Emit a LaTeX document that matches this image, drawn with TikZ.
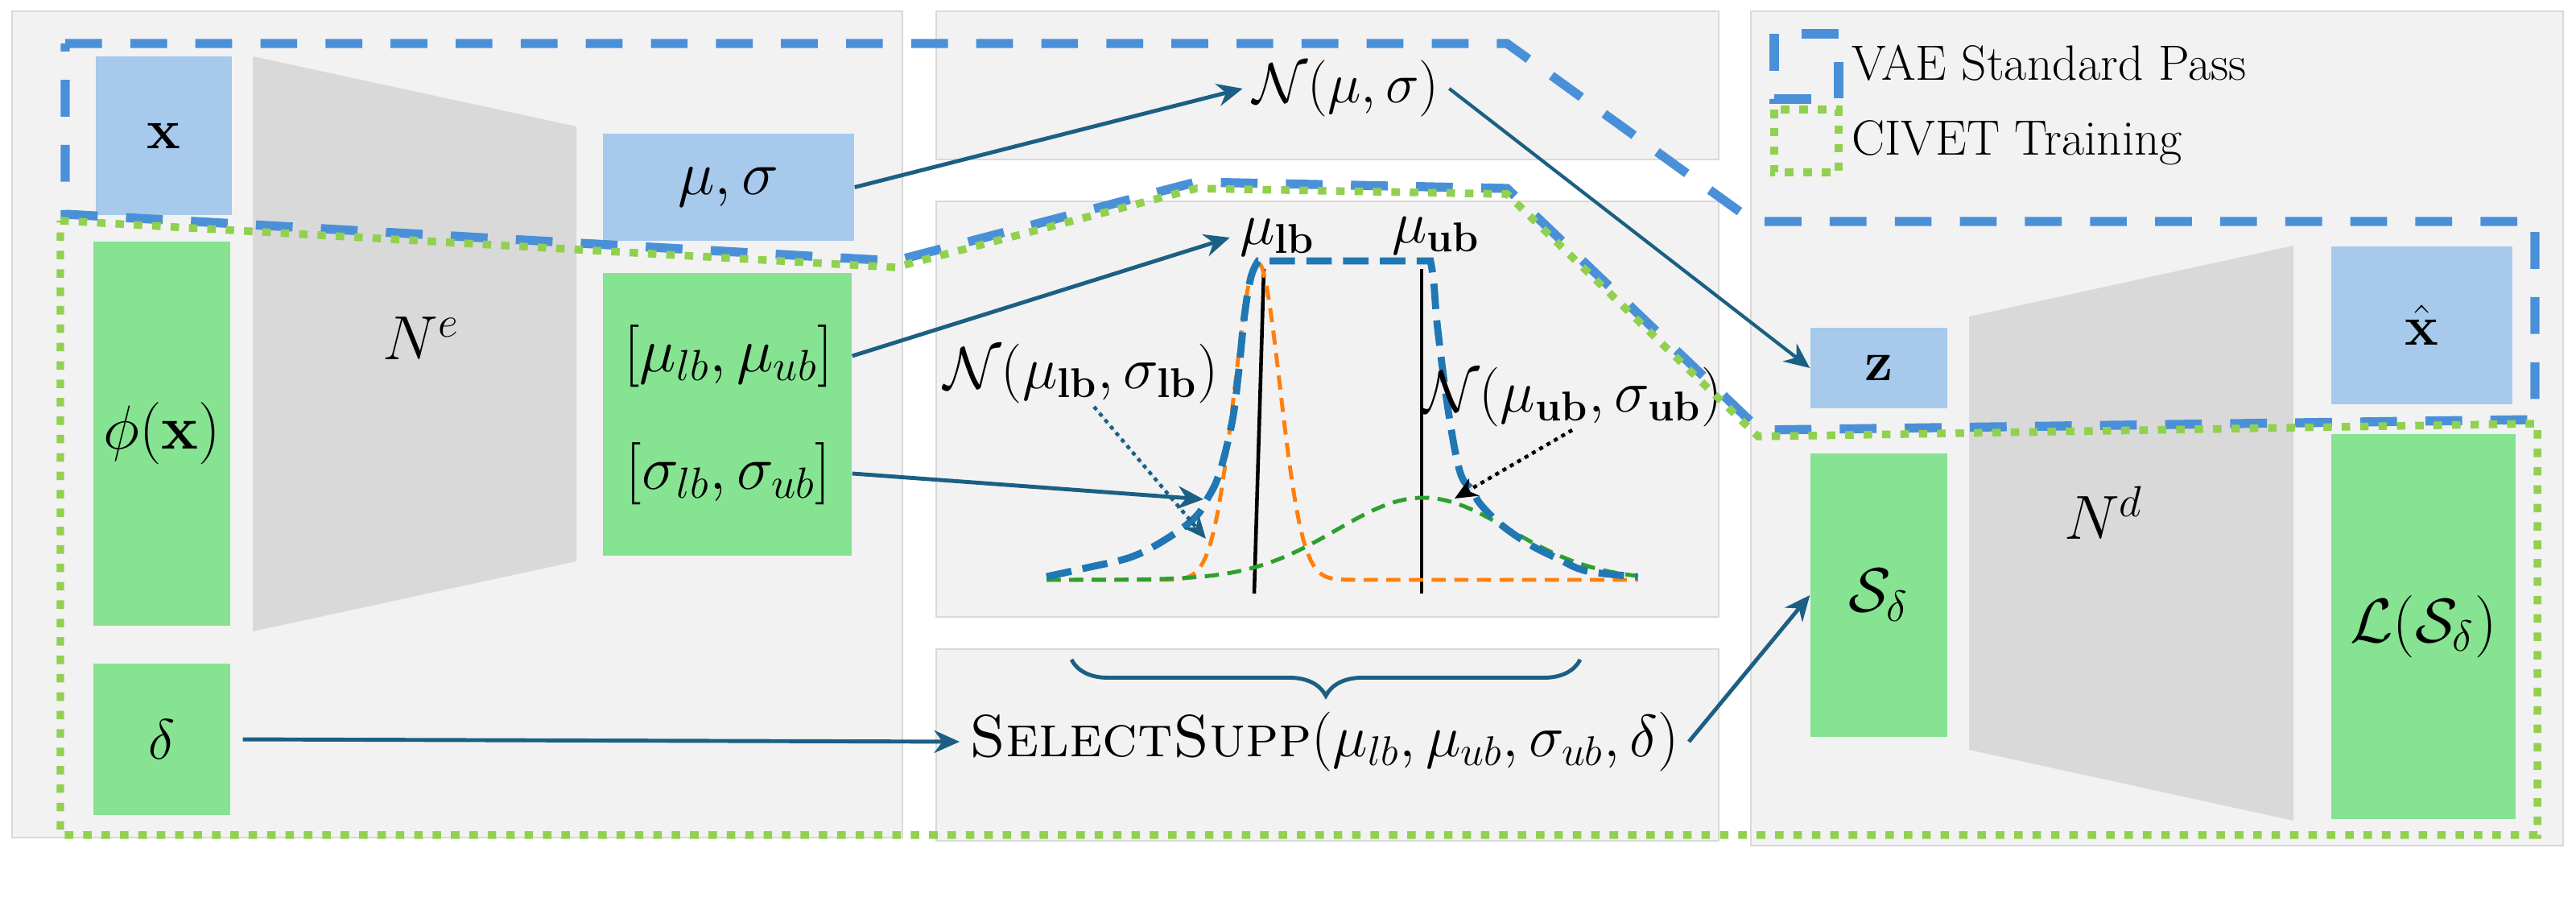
\RequirePackage{fix-cm}
\documentclass[tikz,border=0pt]{standalone}
\usepackage{amsmath}
\usepackage{amsfonts}
\usetikzlibrary{calc}
\usetikzlibrary{arrows.meta}
\usetikzlibrary{decorations.pathreplacing}

\definecolor{panelgray}{RGB}{242,242,242}
\definecolor{netgray}{RGB}{217,217,217}
\definecolor{vaeblue}{RGB}{166,201,236}
\definecolor{civgreen}{RGB}{134,227,145}
\definecolor{passblue}{RGB}{74,144,217}
\definecolor{trainlime}{RGB}{146,208,80}
\definecolor{flowteal}{RGB}{27,96,131}
\definecolor{mplblue}{RGB}{31,119,180}
\definecolor{mplorange}{RGB}{255,127,14}
\definecolor{mplgreen}{RGB}{44,160,44}

\begin{document}
\begin{tikzpicture}[
    panel/.style={fill=panelgray, draw=black!15, line width=0.5pt},
    vaebox/.style={fill=vaeblue, inner sep=0pt},
    civbox/.style={fill=civgreen, inner sep=0pt},
    big/.style={font=\fontsize{20}{24}\selectfont},
    bigger/.style={font=\fontsize{22}{26}\selectfont},
    plotlbl/.style={font=\fontsize{21}{25}\selectfont},
    legend/.style={font=\fontsize{17.5}{21}\selectfont, inner sep=0pt, anchor=base west},
    flow/.style={draw=flowteal, line width=1.4pt, -{Stealth[length=9pt,width=8pt]}},
    pointer/.style={line width=1.3pt, dash pattern=on 1.4pt off 1.6pt, -{Stealth[length=8pt,width=7pt]}},
    vaepass/.style={draw=passblue, line width=3.2pt, dash pattern=on 13pt off 10pt},
    civtrain/.style={draw=trainlime, line width=2.7pt, dash pattern=on 3pt off 3.5pt},
    thin dash/.style={line width=1.4pt, dash pattern=on 5pt off 3pt},
]
\useasboundingbox (0,0) rectangle (32,11.2);
\fill[white] (0,0) rectangle (32,11.2);

% Panels
\draw[panel] (0.15,0.80) rectangle (11.21,11.06);
\draw[panel] (11.63,9.22) rectangle (21.35,11.06);
\draw[panel] (11.63,3.54) rectangle (21.35,8.70);
\draw[panel] (11.63,0.76) rectangle (21.35,3.14);
\draw[panel] (21.75,0.70) rectangle (31.84,11.06);

% Encoder and decoder
\fill[netgray] (3.14,10.50) -- (7.16,9.63) -- (7.16,4.23) -- (3.14,3.36) -- cycle;
\fill[netgray] (24.46,7.27) -- (28.49,8.15) -- (28.49,1.01) -- (24.46,1.89) -- cycle;
\node[bigger] (enc) at (5.23,7.00) {$N^e$};
\node[bigger] (dec) at (26.13,4.83) {$N^d$};

% Input side
\node[vaebox, big, minimum width=1.69cm, minimum height=1.97cm] (x) at (2.035,9.515) {$\mathbf{x}$};
\node[civbox, bigger, minimum width=1.70cm, minimum height=4.77cm] (phi) at (2.01,5.815) {$\phi(\mathbf{x})$};
\node[civbox, big, minimum width=1.70cm, minimum height=1.88cm] (delta) at (2.01,2.02) {$\delta$};

% Encoder outputs
\node[vaebox, bigger, minimum width=3.12cm, minimum height=1.33cm] (musig) at (9.05,8.875) {$\mu,\sigma$};
\node[civbox, minimum width=3.09cm, minimum height=3.51cm] (bnd) at (9.035,6.055) {};
\node[bigger] (mub) at (9.05,6.78) {$[\mu_{lb},\mu_{ub}]$};
\node[bigger] (sigb) at (9.05,5.32) {$[\sigma_{lb},\sigma_{ub}]$};

% Sampling
\node[big] (nms) at (16.72,10.10) {$\mathcal{N}(\mu,\sigma)$};

% Plot of the bounds
\draw[line width=1.3pt] (15.70,7.86) -- (15.58,3.83);
\draw[line width=1.3pt] (17.66,7.86) -- (17.66,3.83);
\draw[thin dash, mplorange] plot[domain=13:20.35, samples=160] (\x, {4+3.96*exp(-((\x-15.62)^2)/(2*0.28^2))});
\draw[thin dash, mplgreen] plot[domain=13:20.35, samples=100] (\x, {4+1.02*exp(-((\x-17.68)^2)/(2*1.08^2))});
\draw[line width=2.5pt, mplblue, dash pattern=on 9pt off 4pt]
  plot[smooth, tension=0.6] coordinates {(13.00,4.04) (13.50,4.15) (14.07,4.29) (14.54,4.54) (14.86,4.79) (15.00,5.01) (15.11,5.22) (15.21,5.54) (15.32,6.04) (15.39,6.61) (15.46,7.29) (15.54,7.76) (15.63,7.96)}
  -- (17.77,7.96)
  -- plot[smooth, tension=0.6] coordinates {(17.77,7.96) (17.81,7.70) (17.86,7.11) (18.00,6.04) (18.14,5.33) (18.29,5.11) (18.39,4.94) (18.64,4.69) (19.00,4.44) (19.36,4.26) (19.71,4.11) (20.34,4.04)};
\node[plotlbl] (mulb) at (15.87,8.25) {$\mu_{\mathbf{lb}}$};
\node[plotlbl] (muub) at (17.84,8.27) {$\mu_{\mathbf{ub}}$};
\node[plotlbl, inner sep=1pt] (nlb) at (13.43,6.56) {$\mathcal{N}(\mu_{\mathbf{lb}},\sigma_{\mathbf{lb}})$};
\node[plotlbl, inner sep=1pt] (nub) at (19.53,6.27) {$\mathcal{N}(\mu_{\mathbf{ub}},\sigma_{\mathbf{ub}})$};
\coordinate (lbtail) at (14.95,5.00);
\coordinate (lbtip) at (14.98,4.51);
\coordinate (ubtip) at (18.07,5.01);

% Support selection
\node[plotlbl] (sel) at (16.45,1.99) {\textsc{SelectSupp}$(\mu_{lb},\mu_{ub},\sigma_{ub},\delta)$};
\draw[flowteal, line width=1.4pt, decorate, decoration={brace, mirror, amplitude=0.45cm}] (13.31,3.01) -- (19.63,3.01);

% Decoder side
\node[vaebox, big, minimum width=1.70cm, minimum height=1.00cm] (z) at (23.34,6.63) {$\mathbf{z}$};
\node[civbox, bigger, minimum width=1.70cm, minimum height=3.52cm] (sd) at (23.34,3.81) {$\mathcal{S}_\delta$};
\node[vaebox, big, minimum width=2.25cm, minimum height=1.96cm] (xhat) at (30.085,7.16) {$\hat{\mathbf{x}}$};
\node[civbox, bigger, minimum width=2.29cm, minimum height=4.78cm] (lsd) at (30.105,3.42) {$\mathcal{L}(\mathcal{S}_\delta)$};

% Regions
\draw[vaepass] (0.81,10.66) -- (18.72,10.66) -- (21.78,8.45) -- (31.49,8.45) -- (31.49,5.99)
  -- (21.86,5.86) -- (18.72,8.86) -- (14.86,8.94) -- (11.12,7.96) -- (0.81,8.54) -- cycle;
\draw[civtrain] (0.75,8.46) -- (11.12,7.88) -- (14.86,8.86) -- (18.72,8.79) -- (21.84,5.78)
  -- (31.52,5.94) -- (31.52,0.83) -- (0.75,0.83) -- cycle;

% Legend
\draw[vaepass] (22.04,10.78) rectangle (22.84,9.97);
\draw[civtrain] (22.04,9.84) rectangle (22.84,9.06);
\node[legend] (lgvae) at (23.00,10.20) {VAE Standard Pass};
\node[legend] (lgciv) at (23.00,9.27) {CIVET Training};

% Connections
\draw[flow] (musig.east) -- (nms.west);
\draw[flow, line width=1.2pt] (nms.east) -- (z.west);
\draw[flow] (bnd.east |- mub) -- (mulb.west);
\draw[flow] (bnd.east |- sigb) -- (lbtail);
\draw[pointer, draw=flowteal, fill=flowteal] ([xshift=0.16cm]nlb.south) -- (lbtip);
\draw[pointer, draw=black, fill=black] (nub.south) -- (ubtip);
\draw[flow, shorten <=0.15cm] (delta.east) -- (sel.west);
\draw[flow] (sel.east) -- (sd.west);
\end{tikzpicture}
\end{document}
